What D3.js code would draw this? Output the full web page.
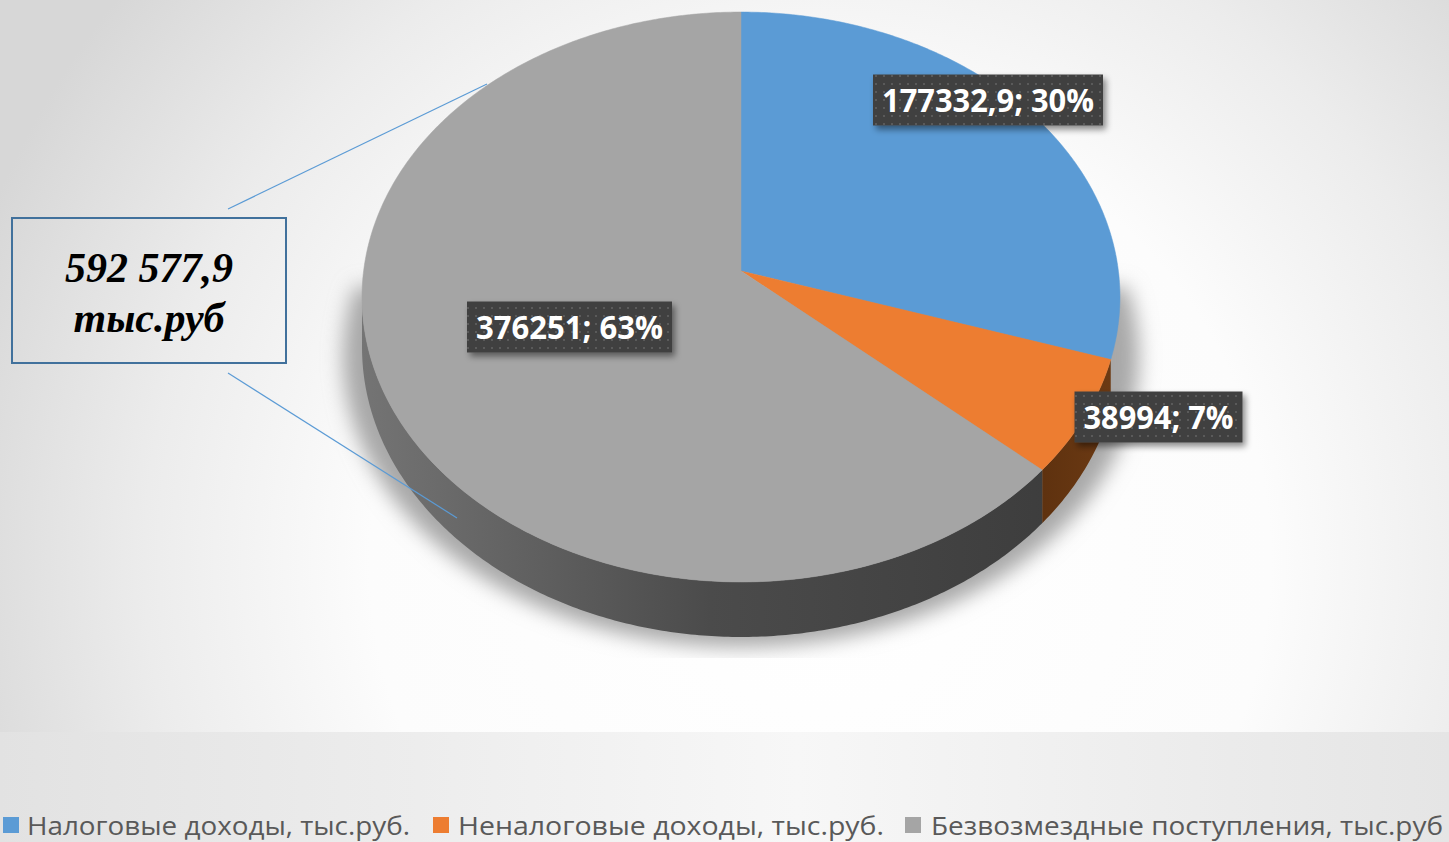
<!DOCTYPE html>
<html><head><meta charset="utf-8">
<script src="https://cdn.jsdelivr.net/npm/d3@7"></script>
<style>html,body{margin:0;padding:0;background:#fff;overflow:hidden}</style>
</head><body>
<svg id="chart" width="1449" height="842"></svg>
<script>
// ---- data ----
const categories = ["Налоговые доходы, тыс.руб.", "Неналоговые  доходы, тыс.руб.", "Безвозмездные поступления, тыс.руб"];
const values = [177332.9, 38994, 376251];
const valueLabels = ["177332,9", "38994", "376251"];
const percentLabels = ["30%", "7%", "63%"];
const totalLabel = ["592 577,9", "тыс.руб"];

// ---- styles / layout ----
const topColors = ["#5b9bd5", "#ed7d31", "#a5a5a5"];
const wallColors = ["none", "url(#wallOrange)", "url(#wallGray)"];
const W = 1449, H = 842;
const cx = 741, cy = 271, bx = 377.4, ay = 282.6, k = 0.0912, depth = 50;

const svg = d3.select("#chart");
const defs = svg.append("defs");

// background gradient
const bg = defs.append("radialGradient").attr("id", "bgGrad")
  .attr("gradientUnits", "userSpaceOnUse").attr("cx", 820).attr("cy", 560).attr("r", 900);
[[0, "#ffffff"], [0.5, "#fcfcfc"], [0.75, "#ececec"], [1, "#d7d7d7"]].forEach(s =>
  bg.append("stop").attr("offset", s[0]).attr("stop-color", s[1]));
const lg = defs.append("linearGradient").attr("id", "legGrad");
[[0, "#e2e2e2"], [0.55, "#f7f7f7"], [1, "#e5e5e5"]].forEach(s =>
  lg.append("stop").attr("offset", s[0]).attr("stop-color", s[1]));
const wg = defs.append("linearGradient").attr("id", "wallGray")
  .attr("gradientUnits", "userSpaceOnUse").attr("x1", 362).attr("x2", 1060).attr("y1", 0).attr("y2", 0);
[[0, "#747474"], [0.5, "#4b4b4b"], [1, "#3d3d3d"]].forEach(s =>
  wg.append("stop").attr("offset", s[0]).attr("stop-color", s[1]));
const wo = defs.append("linearGradient").attr("id", "wallOrange")
  .attr("gradientUnits", "userSpaceOnUse").attr("x1", 1030).attr("x2", 1120).attr("y1", 0).attr("y2", 0);
[[0, "#5c300e"], [1, "#6e3b14"]].forEach(s =>
  wo.append("stop").attr("offset", s[0]).attr("stop-color", s[1]));

// dotted pattern for label boxes
const pat = defs.append("pattern").attr("id", "dots").attr("patternUnits", "userSpaceOnUse")
  .attr("width", 8).attr("height", 8);
pat.append("rect").attr("width", 8).attr("height", 8).attr("fill", "#404040");
pat.append("rect").attr("x", 3).attr("y", 3).attr("width", 2).attr("height", 2).attr("fill", "#5a5a5a");

const blur = defs.append("filter").attr("id", "shadowBlur").attr("x", "-20%").attr("y", "-20%").attr("width", "140%").attr("height", "140%");
blur.append("feGaussianBlur").attr("stdDeviation", 10);
const ds = defs.append("filter").attr("id", "dropShadow").attr("x", "-20%").attr("y", "-30%").attr("width", "140%").attr("height", "170%");
ds.append("feDropShadow").attr("dx", 3).attr("dy", 4).attr("stdDeviation", 3).attr("flood-color", "#000").attr("flood-opacity", 0.45);
defs.append("clipPath").attr("id", "plotClip").append("rect").attr("x", 0).attr("y", 0).attr("width", W).attr("height", 658);

svg.append("rect").attr("width", W).attr("height", 732).attr("fill", "url(#bgGrad)");
svg.append("rect").attr("y", 732).attr("width", W).attr("height", H - 732).attr("fill", "url(#legGrad)");

// ---- projection ----
function proj(phi, r = 1, down = 0) {
  const den = 1 + k * r * Math.cos(phi);
  return [cx + bx * r * Math.sin(phi) / den, cy - ay * r * Math.cos(phi) / den + down * depth / den];
}
function arcPts(a0, a1, r, down) {
  const n = Math.max(2, Math.ceil(Math.abs(a1 - a0) / 0.01));
  return d3.range(n + 1).map(i => proj(a0 + (a1 - a0) * i / n, r, down));
}
const line = d3.line();

const pie = d3.pie().sort(null).value(d => d)(values);

// shadow (front half only)
const vis0 = Math.acos(-k), vis1 = 2 * Math.PI - vis0;
const outline = arcPts(Math.PI * 0.45, Math.PI * 1.55, 1, 1);
svg.append("g").attr("clip-path", "url(#plotClip)")
  .append("path")
  .attr("d", line(outline.map(p => [cx + (p[0] - cx) * 1.05, p[1] + 10])) + "Z")
  .attr("fill", "#a8a8a8").attr("filter", "url(#shadowBlur)");

// walls
const walls = svg.append("g");
pie.forEach((s, i) => {
  const lo = Math.max(s.startAngle, vis0), hi = Math.min(s.endAngle, vis1);
  if (hi <= lo) return;
  const pts = arcPts(lo, hi, 1, 0).concat(arcPts(hi, lo, 1, 1));
  walls.append("path").attr("d", line(pts) + "Z").attr("fill", wallColors[i]);
});

// top faces
const tops = svg.append("g");
pie.forEach((s, i) => {
  const pts = [proj(0, 0, 0)].concat(arcPts(s.startAngle, s.endAngle, 1, 0));
  tops.append("path").attr("d", line(pts) + "Z").attr("fill", topColors[i])
    .attr("stroke", topColors[i]).attr("stroke-width", 0.5);
});

// total box with leader lines
const boxX = 12, boxY = 218, boxW = 274, boxH = 145;
svg.append("line").attr("x1", 228).attr("y1", 209).attr("x2", 487).attr("y2", 84)
  .attr("stroke", "#5b9bd5").attr("stroke-width", 1.2);
svg.append("line").attr("x1", 228).attr("y1", 373).attr("x2", 457).attr("y2", 518)
  .attr("stroke", "#5b9bd5").attr("stroke-width", 1.2);
svg.append("rect").attr("x", boxX).attr("y", boxY).attr("width", boxW).attr("height", boxH)
  .attr("fill", "none").attr("stroke", "#41719c").attr("stroke-width", 2);
svg.append("text").attr("x", 149).attr("y", 282).attr("text-anchor", "middle")
  .attr("font-family", "'Liberation Serif', 'Times New Roman', serif").attr("font-weight", "bold")
  .attr("font-style", "italic").attr("font-size", 42).attr("fill", "#000").text(totalLabel[0]);
svg.append("text").attr("x", 149).attr("y", 332).attr("text-anchor", "middle")
  .attr("font-family", "'Liberation Serif', 'Times New Roman', serif").attr("font-weight", "bold")
  .attr("font-style", "italic").attr("font-size", 42).attr("fill", "#000").text(totalLabel[1]);

// data labels (box centre, box width, text width)
const labelLayout = [
  {x: 988, y: 100, w: 230, tw: 212},
  {x: 1158.5, y: 417, w: 168, tw: 150},
  {x: 569.5, y: 327, w: 205, tw: 187}
];
const labels = svg.append("g");
pie.forEach((s, i) => {
  const L = labelLayout[i];
  const g = labels.append("g");
  g.append("rect").attr("x", L.x - L.w / 2).attr("y", L.y - 25.5).attr("width", L.w).attr("height", 51)
    .attr("fill", "url(#dots)").attr("filter", "url(#dropShadow)");
  g.append("text").attr("x", L.x - L.tw / 2).attr("y", L.y + 12)
    .attr("font-family", "'Open Sans', sans-serif").attr("font-weight", "bold").attr("font-size", 33)
    .attr("fill", "#fff").attr("textLength", L.tw).attr("lengthAdjust", "spacingAndGlyphs")
    .text(valueLabels[i] + "; " + percentLabels[i]);
});

// legend
const legendLayout = [
  {sx: 3, tx: 27, tw: 383},
  {sx: 433, tx: 458, tw: 426},
  {sx: 905, tx: 931, tw: 512}
];
const leg = svg.append("g");
categories.forEach((c, i) => {
  const L = legendLayout[i];
  leg.append("rect").attr("x", L.sx).attr("y", 817).attr("width", 16).attr("height", 16).attr("fill", topColors[i]);
  leg.append("text").attr("x", L.tx).attr("y", 835)
    .attr("font-family", "'Open Sans', sans-serif").attr("font-size", 26).attr("fill", "#595959")
    .attr("textLength", L.tw).attr("lengthAdjust", "spacingAndGlyphs").text(c);
});
</script>
</body></html>
